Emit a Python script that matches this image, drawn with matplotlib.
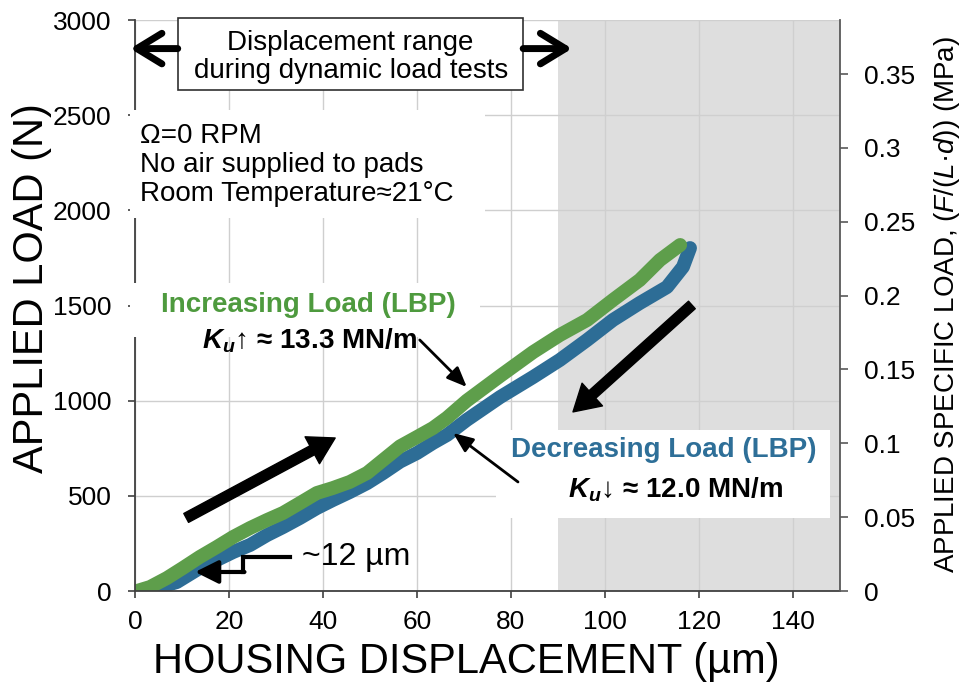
import matplotlib.pyplot as plt
from matplotlib.patches import Rectangle
from matplotlib.ticker import MultipleLocator, FormatStrFormatter

plt.rcParams['font.family'] = ['Liberation Sans', 'DejaVu Sans']
plt.rcParams['mathtext.fontset'] = 'custom'
plt.rcParams['mathtext.rm'] = 'Liberation Sans'
plt.rcParams['mathtext.it'] = 'Liberation Sans:italic'
plt.rcParams['mathtext.bf'] = 'Liberation Sans:bold'
plt.rcParams['mathtext.bfit'] = 'Liberation Sans:italic:bold'

# increasing load (LBP), housing displacement (um) vs applied load (N)
inc_disp = [0.4, 3.2, 6.8, 10.2, 13.8, 17.4, 20.9, 24.5, 28.1, 31.5, 35.1, 38.7, 42.1, 45.7,
            49.4, 52.8, 56.4, 60.0, 63.4, 66.4, 70.6, 77.7, 84.7, 90.4, 96.2, 101.7, 107.4,
            111.7, 116.0]
inc_load = [0, 21, 68, 121, 179, 231, 284, 331, 373, 410, 462, 515, 541, 573,
            620, 688, 760, 809, 856, 910, 1000, 1130, 1255, 1345, 1424, 1529, 1634,
            1739, 1818]

# decreasing load (LBP)
dec_disp = [118.1, 116.6, 113.2, 107.4, 101.7, 96.2, 90.4, 84.7, 77.7, 70.6, 66.4, 63.4,
            60.0, 56.4, 52.8, 49.4, 45.7, 42.1, 38.7, 35.1, 31.5, 28.1, 24.5, 20.9, 17.4,
            13.8, 8.9, 4.7, 1.7]
dec_load = [1802, 1703, 1597, 1513, 1424, 1319, 1214, 1124, 1019, 899, 820, 778,
            725, 680, 620, 567, 520, 478, 436, 384, 336, 294, 242, 205, 163,
            121, 47, 16, 0]

LD_AREA = 7760.0   # mm^2, L*d -> N / mm^2 = MPa
dyn_range = (90, 150)

green = '#5e9e4b'
blue = '#2d6d96'

fig = plt.figure(figsize=(9.64, 6.91), dpi=100)
ax = fig.add_axes([0.140, 0.1447, 0.7313, 0.8263])

ax.axvspan(dyn_range[0], dyn_range[1], color='#dedede', zorder=0, lw=0)

ax.plot(dec_disp, dec_load, color=blue, lw=10, solid_joinstyle='round',
        solid_capstyle='round', zorder=2)
ax.plot(inc_disp, inc_load, color=green, lw=10, solid_joinstyle='round',
        solid_capstyle='round', zorder=2.1)

ax.set_xlim(0, 150)
ax.set_ylim(0, 3000)
ax.xaxis.set_major_locator(MultipleLocator(20))
ax.yaxis.set_major_locator(MultipleLocator(500))
ax.grid(True, color='#cfcfcf', lw=1)
for s in ['top', 'right']:
    ax.spines[s].set_visible(False)
for s in ['left', 'bottom']:
    ax.spines[s].set_color('#404040')
    ax.spines[s].set_linewidth(1.3)
ax.tick_params(axis='both', direction='out', length=5, width=1.2, color='#404040',
               labelsize=19)
ax.tick_params(axis='y', pad=12)
ax.tick_params(axis='x', pad=9)

ax.set_xlabel('HOUSING DISPLACEMENT (µm)', fontsize=30)
ax.xaxis.set_label_coords(0.4695, -0.089)
ax.set_ylabel('APPLIED LOAD (N)', fontsize=30)
ax.yaxis.set_label_coords(-0.118, 0.5306)

ax2 = ax.twinx()
ax2.set_ylim(0, 3000 / LD_AREA)
ax2.yaxis.set_major_locator(MultipleLocator(0.05))
ax2.yaxis.set_major_formatter(FormatStrFormatter('%g'))
for s in ['top', 'left', 'bottom']:
    ax2.spines[s].set_visible(False)
ax2.spines['right'].set_color('#595959')
ax2.spines['right'].set_linewidth(1.3)
ax2.tick_params(axis='y', direction='out', length=6, width=1.2, color='#595959',
                labelsize=19, pad=11)
ax2.set_ylabel(r'APPLIED SPECIFIC LOAD, ($\mathit{F}$/($\mathit{L}$·$\mathit{d}$)) (MPa)',
               fontsize=20)
ax2.yaxis.set_label_coords(1.1305, 0.5026)

# white boxes behind the notes
ax.add_patch(Rectangle((-1, 1960), 75.5, 568, facecolor='white', edgecolor='none',
                       zorder=3, clip_on=False))
ax.add_patch(Rectangle((-1, 1335), 74.4, 283, facecolor='white', edgecolor='none',
                       zorder=3, clip_on=False))
ax.add_patch(Rectangle((76.8, 384), 71.1, 462, facecolor='white', edgecolor='none',
                       zorder=3))
ax.add_patch(Rectangle((9.1, 2632), 73.5, 379, facecolor='white', edgecolor='#303030',
                       lw=1.2, zorder=3, clip_on=False))

ax.text(45.9, 2806, 'Displacement range\nduring dynamic load tests', fontsize=20,
        ha='center', va='center', zorder=4, linespacing=1.1)
for tip, tail in [(-1.0, 9.1), (93.0, 82.6)]:
    ax.annotate('', xy=(tip, 2850), xytext=(tail, 2850), annotation_clip=False, zorder=5,
                arrowprops=dict(arrowstyle='->,head_length=0.9,head_width=0.55',
                                lw=5, color='black', mutation_scale=20,
                                shrinkA=0, shrinkB=0, capstyle='round', joinstyle='round'))

ax.text(1.1, 2238, 'Ω=0 RPM\nNo air supplied to pads\nRoom Temperature≈21°C',
        fontsize=20, ha='left', va='center', zorder=4, linespacing=1.15)

ax.text(36.9, 1503, 'Increasing Load (LBP)', color='#4e9a3e', fontsize=20,
        fontweight='bold', ha='center', va='center', zorder=4)
ax.text(37.2, 1314, r'$\mathbfit{K}_{\mathbfit{u}}$↑ ≈ 13.3 MN/m', fontsize=20,
        fontweight='bold', ha='center', va='center', zorder=4)
ax.text(112.6, 741, 'Decreasing Load (LBP)', color='#2e6f98', fontsize=20,
        fontweight='bold', ha='center', va='center', zorder=4)
ax.text(115.1, 531, r'$\mathbfit{K}_{\mathbfit{u}}$↓ ≈ 12.0 MN/m', fontsize=20,
        fontweight='bold', ha='center', va='center', zorder=4)

# big direction arrows
big = dict(arrowstyle='simple,head_length=0.85,head_width=1.0,tail_width=0.33',
           color='black', mutation_scale=22, shrinkA=0, shrinkB=0)
ax.annotate('', xy=(42.6, 804), xytext=(10.9, 384), arrowprops=big, zorder=5)
ax.annotate('', xy=(93.2, 941), xytext=(118.5, 1503), arrowprops=big, zorder=5)

# thin pointers
thin = dict(arrowstyle='-|>,head_length=0.6,head_width=0.25', color='black', lw=2,
            mutation_scale=20, shrinkA=0, shrinkB=0)
ax.annotate('', xy=(70.6, 1072), xytext=(60.6, 1319), arrowprops=thin, zorder=5)
ax.annotate('', xy=(67.7, 830), xytext=(81.5, 573), arrowprops=thin, zorder=5)

# ~12 um offset marker
ax.plot([33, 23, 23], [179, 179, 100], color='black', lw=3, solid_joinstyle='miter',
        zorder=5)
ax.annotate('', xy=(12.8, 100), xytext=(23.3, 100), zorder=5,
            arrowprops=dict(arrowstyle='-|>,head_length=0.7,head_width=0.35', color='black',
                            lw=3, mutation_scale=20, shrinkA=0, shrinkB=0))
ax.text(35.5, 179, '~12 µm', fontsize=23, ha='left', va='center', zorder=5)

fig.savefig('out.png', dpi=100)
